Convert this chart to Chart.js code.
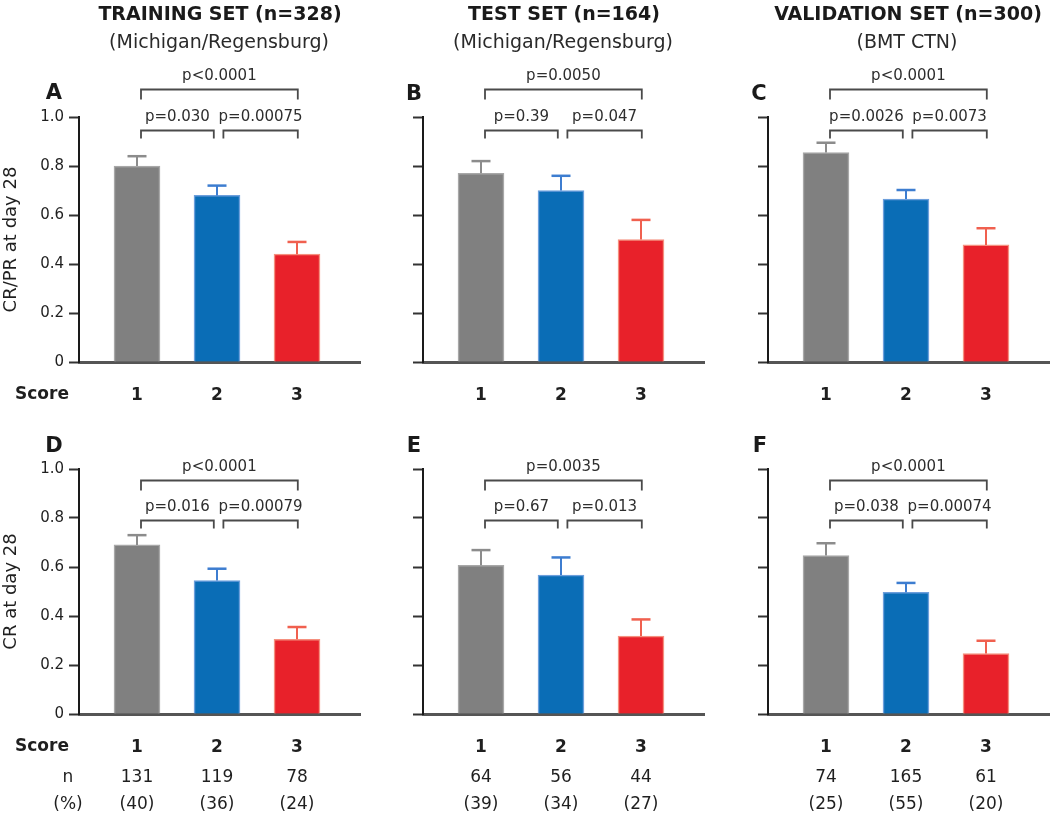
<!DOCTYPE html>
<html>
<head>
<meta charset="utf-8">
<script src="https://cdn.jsdelivr.net/npm/chart.js@4.4.1/dist/chart.umd.min.js"></script>
<style>
  html, body { margin: 0; padding: 0; background: #fff; }
  body { width: 1050px; height: 818px; position: relative; overflow: hidden; font-family: "DejaVu Sans", sans-serif; }
  .pane { position: absolute; }
  .pane canvas { display: block; }
  .txt { position: absolute; color: #1a1a1a; white-space: nowrap; text-align: center; transform: translate(-50%, -50%); }
  .ttl { font-weight: bold; font-size: 19px; line-height: 24px; }
  .sub { font-size: 19px; line-height: 24px; color: #2a2a2a; }
  .let { font-weight: bold; font-size: 21px; line-height: 24px; }
</style>
</head>
<body>
<script>
// ---------------- data ----------------
const scores = [1, 2, 3];
const yTickValues = [0, 0.2, 0.4, 0.6, 0.8, 1.0];

const setTitles = ['TRAINING SET (n=328)', 'TEST SET (n=164)', 'VALIDATION SET (n=300)'];
const setSubtitles = ['(Michigan/Regensburg)', '(Michigan/Regensburg)', '(BMT CTN)'];
const panelLetters = ['A', 'B', 'C', 'D', 'E', 'F'];
const yTitleTop = 'CR/PR at day 28';
const yTitleBottom = 'CR at day 28';

// CR/PR at day 28 (mean and upper error)
const crprTraining = [0.80, 0.68, 0.44];
const crprTrainingErr = [0.04, 0.04, 0.05];
const crprTest = [0.77, 0.70, 0.50];
const crprTestErr = [0.05, 0.06, 0.08];
const crprValidation = [0.855, 0.665, 0.478];
const crprValidationErr = [0.04, 0.037, 0.068];

// CR at day 28
const crTraining = [0.69, 0.545, 0.305];
const crTrainingErr = [0.04, 0.048, 0.05];
const crTest = [0.607, 0.567, 0.318];
const crTestErr = [0.062, 0.072, 0.068];
const crValidation = [0.647, 0.497, 0.247];
const crValidationErr = [0.05, 0.038, 0.052];

// p-values: [1 vs 2, 2 vs 3, 1 vs 3]
const pCrprTraining = ['p=0.030', 'p=0.00075', 'p<0.0001'];
const pCrprTest = ['p=0.39', 'p=0.047', 'p=0.0050'];
const pCrprValidation = ['p=0.0026', 'p=0.0073', 'p<0.0001'];
const pCrTraining = ['p=0.016', 'p=0.00079', 'p<0.0001'];
const pCrTest = ['p=0.67', 'p=0.013', 'p=0.0035'];
const pCrValidation = ['p=0.038', 'p=0.00074', 'p<0.0001'];

// patients per score group
const nTraining = [131, 119, 78];
const pctTraining = [40, 36, 24];
const nTest = [64, 56, 44];
const pctTest = [39, 34, 27];
const nValidation = [74, 165, 61];
const pctValidation = [25, 55, 20];

const bracketPairs = [[0, 1], [1, 2], [0, 2]];

// ---------------- styles ----------------
const FONT = '"DejaVu Sans", sans-serif';
const barFill = ['#808080', '#0a6db6', '#e8212a'];
const barEdge = ['#a8a8a8', '#6d9fdc', '#f5907f'];
const errColor = ['#8c8c8c', '#3d7dd0', '#f0604f'];
const textColor = '#1f1f1f';

// ---------------- layout ----------------
const cols = [
  { left: 0, width: 361, yWidth: 79 },
  { left: 361, width: 344, yWidth: 62 },
  { left: 705, width: 345, yWidth: 63 }
];
const rows = [
  { top: 0, height: 420, padTop: 117, xHeight: 58, low: 0.947, high: 1.114 },
  { top: 420, height: 398, padTop: 49, xHeight: 104, low: 0.792, high: 0.955 }
];

const panels = [
  { r: 0, c: 0, means: crprTraining, errs: crprTrainingErr, p: pCrprTraining, yTitle: yTitleTop },
  { r: 0, c: 1, means: crprTest, errs: crprTestErr, p: pCrprTest },
  { r: 0, c: 2, means: crprValidation, errs: crprValidationErr, p: pCrprValidation },
  { r: 1, c: 0, means: crTraining, errs: crTrainingErr, p: pCrTraining, yTitle: yTitleBottom, n: nTraining, pct: pctTraining },
  { r: 1, c: 1, means: crTest, errs: crTestErr, p: pCrTest, n: nTest, pct: pctTest },
  { r: 1, c: 2, means: crValidation, errs: crValidationErr, p: pCrValidation, n: nValidation, pct: pctValidation }
];

function makePanel(pn) {
  const col = cols[pn.c], row = rows[pn.r];
  const div = document.createElement('div');
  div.className = 'pane';
  div.style.left = col.left + 'px';
  div.style.top = row.top + 'px';
  div.style.width = col.width + 'px';
  div.style.height = row.height + 'px';
  const cv = document.createElement('canvas');
  cv.width = col.width; cv.height = row.height;
  cv.style.width = col.width + 'px'; cv.style.height = row.height + 'px';
  div.appendChild(cv);
  document.body.appendChild(div);

  const showLabels = pn.c === 0;

  const decor = {
    id: 'decor',
    afterDatasetsDraw(chart) {
      const ctx = chart.ctx, ys = chart.scales.y;
      const meta = chart.getDatasetMeta(0);
      ctx.save();
      meta.data.forEach((bar, i) => {
        const yCap = ys.getPixelForValue(pn.means[i] + pn.errs[i]);
        ctx.strokeStyle = errColor[i];
        ctx.lineWidth = 2;
        ctx.beginPath(); ctx.moveTo(bar.x, bar.y); ctx.lineTo(bar.x, yCap); ctx.stroke();
        ctx.lineWidth = 2.5;
        ctx.beginPath(); ctx.moveTo(bar.x - 9.5, yCap); ctx.lineTo(bar.x + 9.5, yCap); ctx.stroke();
      });
      ctx.restore();
    },
    afterDraw(chart) {
      const ctx = chart.ctx, xs = chart.scales.x, ys = chart.scales.y, ca = chart.chartArea;
      ctx.save();
      // significance brackets
      const startOff = [0.05, 0.08, 0.05], endOff = [-0.04, 0.01, 0.01];
      bracketPairs.forEach((pr, k) => {
        const isTop = k === 2;
        const yv = isTop ? row.high : row.low;
        const y = Math.round(ys.getPixelForValue(yv)) + 0.5;
        const leg = isTop ? 10 : 8;
        const x1 = xs.getPixelForValue(scores[pr[0]] + startOff[k]);
        const x2 = xs.getPixelForValue(scores[pr[1]] + endOff[k]);
        ctx.strokeStyle = '#4a4a4a';
        ctx.lineWidth = 1.8;
        ctx.lineJoin = 'miter';
        ctx.beginPath();
        ctx.moveTo(x1, y + leg); ctx.lineTo(x1, y); ctx.lineTo(x2, y); ctx.lineTo(x2, y + leg);
        ctx.stroke();
        ctx.fillStyle = '#2e2e2e';
        ctx.font = '15px ' + FONT;
        ctx.textAlign = 'center';
        ctx.textBaseline = 'middle';
        ctx.fillText(pn.p[k], (x1 + x2) / 2, y - 13);
      });
      // row labels beneath the axis
      ctx.fillStyle = textColor;
      ctx.textAlign = 'center';
      ctx.textBaseline = 'middle';
      if (showLabels) {
        ctx.font = 'bold 17px ' + FONT;
        ctx.fillText('Score', ca.left - 37, ca.bottom + 33);
      }
      if (pn.n) {
        ctx.font = '17px ' + FONT;
        if (showLabels) {
          ctx.fillText('n', ca.left - 11, ca.bottom + 64);
          ctx.fillText('(%)', ca.left - 11, ca.bottom + 91);
        }
        scores.forEach((s, i) => {
          const x = xs.getPixelForValue(s);
          ctx.fillText(String(pn.n[i]), x, ca.bottom + 64);
          ctx.fillText('(' + pn.pct[i] + ')', x, ca.bottom + 91);
        });
      }
      ctx.restore();
    }
  };

  return new Chart(cv, {
    type: 'bar',
    data: {
      datasets: [{
        data: scores.map((s, i) => ({ x: s, y: pn.means[i] })),
        backgroundColor: barFill,
        borderColor: barEdge,
        borderWidth: 1.5,
        borderSkipped: 'start',
        barThickness: 46
      }]
    },
    options: {
      responsive: false,
      maintainAspectRatio: false,
      animation: false,
      events: [],
      layout: { padding: { top: row.padTop, left: 0, right: 0, bottom: 0 } },
      plugins: { legend: { display: false }, tooltip: { enabled: false }, title: { display: false } },
      scales: {
        x: {
          type: 'linear',
          offset: false,
          min: 0.275,
          max: 3.8,
          afterBuildTicks: (s) => { s.ticks = scores.map(v => ({ value: v })); },
          afterFit: (s) => { s.height = row.xHeight; },
          grid: { display: false, drawTicks: false, offset: false },
          border: { display: true, color: '#555', width: 3 },
          ticks: {
            autoSkip: false,
            maxRotation: 0,
            padding: 23,
            color: textColor,
            font: { family: FONT, size: 17, weight: 'bold' },
            callback: (v) => String(v)
          }
        },
        y: {
          min: 0,
          max: 1,
          afterBuildTicks: (s) => { s.ticks = yTickValues.map(v => ({ value: v })); },
          afterFit: (s) => { s.width = col.yWidth; },
          grid: { drawOnChartArea: false, drawTicks: true, tickLength: 10, tickWidth: 2, tickColor: '#333' },
          border: { display: true, color: '#1a1a1a', width: 2 },
          ticks: {
            autoSkip: false,
            padding: 5,
            color: textColor,
            font: { family: FONT, size: 15 },
            callback: (v) => showLabels ? (v === 0 ? '0' : Number(v).toFixed(1)) : ''
          },
          title: {
            display: !!pn.yTitle,
            text: pn.yTitle || '',
            color: textColor,
            font: { family: FONT, size: 18 },
            padding: { top: 1, bottom: 0 }
          }
        }
      }
    },
    plugins: [decor]
  });
}

panels.forEach(makePanel);

// panel headings and letters
function addText(cls, text, x, y) {
  const d = document.createElement('div');
  d.className = 'txt ' + cls;
  d.textContent = text;
  d.style.left = x + 'px';
  d.style.top = y + 'px';
  document.body.appendChild(d);
}
const titleX = [220, 564, 908];
setTitles.forEach((t, i) => addText('ttl', t, titleX[i], 13));
setSubtitles.forEach((t, i) => addText('sub', t, titleX[i] - 1, 41));
const letterPos = [[54, 92], [414, 93], [759, 93], [54, 445], [414, 445], [760, 445]];
panelLetters.forEach((l, i) => addText('let', l, letterPos[i][0], letterPos[i][1]));
</script>
</body>
</html>
